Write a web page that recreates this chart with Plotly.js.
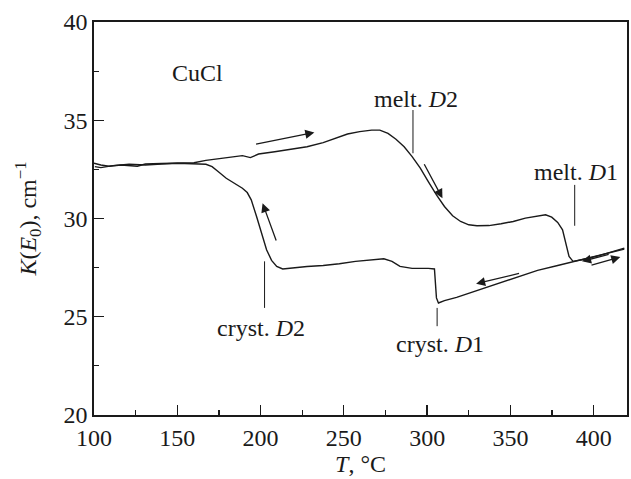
<!DOCTYPE html>
<html>
<head>
<meta charset="utf-8">
<script src="https://cdn.plot.ly/plotly-3.0.1.min.js"></script>
<style>html,body{margin:0;padding:0;background:#fff;}#chart{width:631px;height:479px;}</style>
</head>
<body>
<div id="chart"></div>
<script>
// Heating run (T in °C, K in cm^-1)
var heatT = [100,104.1,109,116.3,126,130.8,140.5,152.7,160,167.2,176.9,189.1,193.9,198.8,208.5,218.2,227.9,237.6,244.9,252.2,259.5,266.7,271.6,276.5,281.3,286.2,291,295.9,300.7,305.6,310.4,315.3,320.1,325,329.9,337.1,344.4,351.7,359,366.3,371.1,374.8,378.4,381.3,383.3,385.2,387.6,393,402.7,412.4,418.4];
var heatK = [32.81,32.72,32.66,32.72,32.66,32.77,32.80,32.81,32.84,32.96,33.05,33.20,33.10,33.28,33.40,33.52,33.65,33.86,34.08,34.30,34.42,34.50,34.50,34.33,34.03,33.65,33.15,32.56,31.88,31.20,30.61,30.14,29.85,29.68,29.63,29.64,29.73,29.85,30.02,30.14,30.19,30.07,29.80,29.42,28.75,28.07,27.82,27.90,28.10,28.32,28.49];
// Cooling run
var coolT = [418.4,407.5,395.4,388.1,378.4,366.3,356.6,346.8,337.1,327.4,317.7,310.4,306.8,305.6,304.9,304.4,300.7,291,283.7,278.9,274,266.7,257,247.3,237.6,227.9,218.2,213.3,209.7,206.6,203.6,200.7,197.6,194.4,192,189.1,184.2,179.4,174.5,170.9,167.2,160,150.2,140.5,130.8,121.1,111.4,104.1,100.5];
var coolK = [28.44,28.21,27.94,27.78,27.61,27.36,27.09,26.80,26.51,26.24,25.99,25.82,25.70,25.96,26.72,27.43,27.46,27.46,27.56,27.82,27.95,27.90,27.82,27.70,27.61,27.56,27.46,27.43,27.56,27.87,28.41,29.17,30.10,30.95,31.32,31.54,31.79,32.05,32.39,32.64,32.76,32.77,32.81,32.77,32.72,32.76,32.69,32.59,32.64];

// Text labels
var labelText = ['CuCl','melt. <i>D</i>2','melt. <i>D</i>1','cryst. <i>D</i>2','cryst. <i>D</i>1'];
var labelT = [162.4,293.4,389.3,200,308];
var labelK = [37.38,36.1,32.39,24.43,23.59];
// Leader lines [x, y0, y1]
var leaderT = [291.5,388.6,202.4,306];
var leaderK0 = [35.52,31.71,27.82,25.45];
var leaderK1 = [33.32,29.63,25.45,24.52];
// Direction arrows: tail -> head
var arrTailT = [196.4,297.8,209.7,356.1,397.8,409.9];
var arrTailK = [33.77,32.84,28.8,27.22,27.6,28.19];
var arrHeadT = [232.3,309.2,201.2,329.4,416,393];
var arrHeadK = [34.38,31.03,30.78,26.68,28.04,27.82];

var FONT = '"Liberation Serif", "Times New Roman", serif';
var INK = '#1a1a1a';

var traces = [
  {x: heatT, y: heatK, mode: 'lines', line: {color: INK, width: 1.4}, hoverinfo: 'skip'},
  {x: coolT, y: coolK, mode: 'lines', line: {color: INK, width: 1.4}, hoverinfo: 'skip'}
];

var annotations = [];
for (var i = 0; i < labelText.length; i++) {
  annotations.push({x: labelT[i], y: labelK[i], xref: 'x', yref: 'y', text: labelText[i],
    showarrow: false, font: {family: FONT, size: 24, color: INK}, xanchor: 'center', yanchor: 'middle'});
}
for (var j = 0; j < arrTailT.length; j++) {
  annotations.push({x: arrHeadT[j], y: arrHeadK[j], ax: arrTailT[j], ay: arrTailK[j],
    xref: 'x', yref: 'y', axref: 'x', ayref: 'y', text: '', showarrow: true,
    arrowhead: 2, arrowsize: 1.4, arrowwidth: 1.3, arrowcolor: INK, standoff: 0, startstandoff: 0});
}
var shapes = [];
for (var k = 0; k < leaderT.length; k++) {
  shapes.push({type: 'line', xref: 'x', yref: 'y', x0: leaderT[k], x1: leaderT[k], y0: leaderK0[k], y1: leaderK1[k],
    line: {color: INK, width: 1}});
}

var axisCommon = {
  showgrid: false, zeroline: false, showline: true, linecolor: INK, linewidth: 1.8, mirror: true,
  ticks: 'inside', ticklen: 10, tickwidth: 1.3, tickcolor: INK,
  tickfont: {family: FONT, size: 24, color: INK}
};

var layout = {
  width: 631, height: 479,
  margin: {l: 94, r: 4, t: 22, b: 64},
  paper_bgcolor: '#fff', plot_bgcolor: '#fff',
  showlegend: false,
  xaxis: Object.assign({}, axisCommon, {
    range: [100, 420], tickmode: 'linear', tick0: 100, dtick: 50,
    minor: {ticks: 'inside', dtick: 25, ticklen: 5, tickwidth: 1.2, tickcolor: INK, showgrid: false},
    title: {text: '<i>T</i>, °C', font: {family: FONT, size: 24, color: INK}, standoff: 4}
  }),
  yaxis: Object.assign({}, axisCommon, {
    range: [20, 40], tickmode: 'linear', tick0: 20, dtick: 5,
    minor: {ticks: 'inside', dtick: 2.5, ticklen: 5, tickwidth: 1.2, tickcolor: INK, showgrid: false},
    title: {text: '<i>K</i>(<i>E</i><sub>0</sub>), cm<sup>−1</sup>', font: {family: FONT, size: 24, color: INK}, standoff: 20}
  }),
  annotations: annotations,
  shapes: shapes
};

Plotly.newPlot('chart', traces, layout, {staticPlot: true, displayModeBar: false});
</script>
</body>
</html>
